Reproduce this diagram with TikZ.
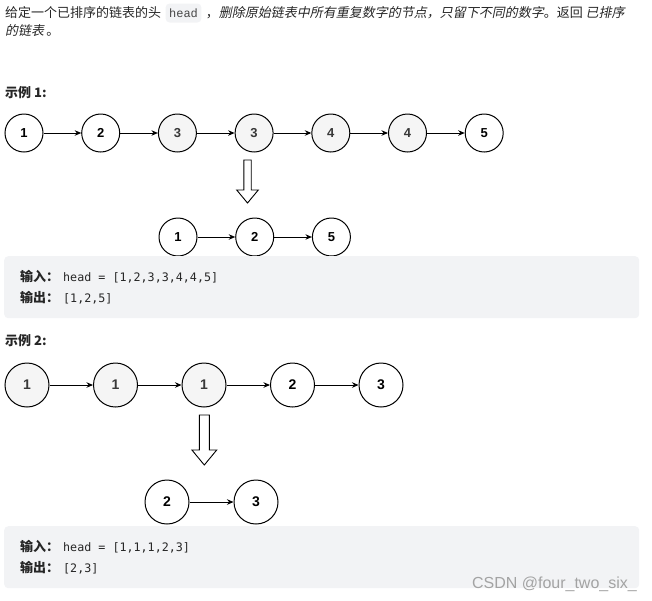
\documentclass[tikz,border=0pt]{standalone}
\usepackage{fontspec}
\usepackage{tikz}
\usetikzlibrary{positioning,arrows.meta}
\setmainfont{Noto Sans CJK SC}
\newfontfamily\slantcjk[FakeSlant=0.2]{Noto Sans CJK SC}
\newfontfamily\numfont{Liberation Sans}
\newfontfamily\inlinecode{Liberation Mono}
\newfontfamily\boxcode{DejaVu Sans Mono}
\definecolor{ink}{HTML}{262626}
\definecolor{codebg}{HTML}{F2F3F5}
\definecolor{dupfill}{HTML}{F5F5F5}
\definecolor{wmgray}{HTML}{A3A3A3}

\tikzset{
  bodytext/.style={inner sep=0pt, text=ink, font=\fontsize{13}{16}\selectfont},
  listnode/.style={circle, draw=black, line width=1pt, fill=white, minimum size=38pt,
                   inner sep=0pt, font=\numfont\bfseries\fontsize{13}{13}\selectfont},
  dupnode/.style={listnode, fill=dupfill, text=black!78},
  bignode/.style={minimum size=44pt, font=\numfont\bfseries\fontsize{14}{14}\selectfont},
  link/.style={-{Stealth[length=6.5pt,width=5.5pt]}, line width=0.9pt},
  hollowarrow/.style={draw=black, fill=white, line width=0.9pt, line join=miter},
  codebox/.style={fill=codebg, rounded corners=4pt}
}

\begin{document}
\begin{tikzpicture}[x=1pt, y=-1pt]
\useasboundingbox (0,0) rectangle (652,600);

% problem statement
\node[bodytext, anchor=base west] (intro1) at (5,17) {给定一个已排序的链表的头};
\node[codebox, text=ink!85, inner xsep=3.5pt, inner ysep=3.5pt, text height=10pt, text depth=2pt,
      font=\inlinecode\fontsize{12}{12}\selectfont,
      right=4pt of intro1.base east, anchor=base west] (headcode) {head};
\node[bodytext, right=4pt of headcode.base east, anchor=base west] (intro2)
  {，{\slantcjk 删除原始链表中所有重复数字的节点，只留下不同的数字}。返回 {\slantcjk 已排序}};
\node[bodytext, anchor=base west] (intro3) at (5,35) {{\slantcjk 的链表}\,。};

% example 1
\node[bodytext, font=\bfseries\fontsize{13}{16}\selectfont, anchor=base west] (ex1) at (5,97) {示例 1:};

\node[listnode] (a1) at (24,133) {1};
\node[listnode, right=37.7pt of a1] (a2) {2};
\node[dupnode, right=37.7pt of a2] (a3) {3};
\node[dupnode, right=37.7pt of a3] (a4) {3};
\node[dupnode, right=37.7pt of a4] (a5) {4};
\node[dupnode, right=37.7pt of a5] (a6) {4};
\node[listnode, right=37.7pt of a6] (a7) {5};
\draw[link] (a1) -- (a2);
\draw[link] (a2) -- (a3);
\draw[link] (a3) -- (a4);
\draw[link] (a4) -- (a5);
\draw[link] (a5) -- (a6);
\draw[link] (a6) -- (a7);

\draw[hollowarrow] (243.8,160) -- (251.2,160) -- (251.2,190) -- (258.3,190)
  -- (247.5,203) -- (236.7,190) -- (243.8,190) -- cycle;

\node[listnode] (r1) at (178,237) {1};
\node[listnode, right=37.7pt of r1] (r2) {2};
\node[listnode, right=37.7pt of r2] (r3) {5};
\draw[link] (r1) -- (r2);
\draw[link] (r2) -- (r3);

\node[codebox, minimum width=635pt, minimum height=62pt, anchor=north west] (box1) at (4,256) {};
\node[bodytext, anchor=base west] (in1) at (20,281)
  {{\bfseries 输入：}\hspace{4pt}{\boxcode\fontsize{11.7}{14}\selectfont head = [1,2,3,3,4,4,5]}};
\node[bodytext, anchor=base west] (out1) at (20,302)
  {{\bfseries 输出：}\hspace{4pt}{\boxcode\fontsize{11.7}{14}\selectfont [1,2,5]}};

% example 2
\node[bodytext, font=\bfseries\fontsize{13}{16}\selectfont, anchor=base west] (ex2) at (5,345) {示例 2:};

\node[dupnode, bignode] (b1) at (27,385) {1};
\node[dupnode, bignode, right=43.5pt of b1] (b2) {1};
\node[dupnode, bignode, right=43.5pt of b2] (b3) {1};
\node[listnode, bignode, right=43.5pt of b3] (b4) {2};
\node[listnode, bignode, right=43.5pt of b4] (b5) {3};
\draw[link] (b1) -- (b2);
\draw[link] (b2) -- (b3);
\draw[link] (b3) -- (b4);
\draw[link] (b4) -- (b5);

\draw[hollowarrow] (199.3,415) -- (209.3,415) -- (209.3,450) -- (216.7,450)
  -- (204.3,465) -- (191.9,450) -- (199.3,450) -- cycle;

\node[listnode, bignode] (s1) at (167,502) {2};
\node[listnode, bignode, right=44pt of s1] (s2) {3};
\draw[link] (s1) -- (s2);

\node[codebox, minimum width=635pt, minimum height=62pt, anchor=north west] (box2) at (4,526) {};
\node[bodytext, anchor=base west] (in2) at (20,551)
  {{\bfseries 输入：}\hspace{4pt}{\boxcode\fontsize{11.7}{14}\selectfont head = [1,1,1,2,3]}};
\node[bodytext, anchor=base west] (out2) at (20,572)
  {{\bfseries 输出：}\hspace{4pt}{\boxcode\fontsize{11.7}{14}\selectfont [2,3]}};

\node[inner sep=0pt, text=wmgray, font=\numfont\fontsize{16}{16}\selectfont, anchor=base east]
  (watermark) at (637,588) {CSDN @four\_two\_six\_};
\end{tikzpicture}
\end{document}
